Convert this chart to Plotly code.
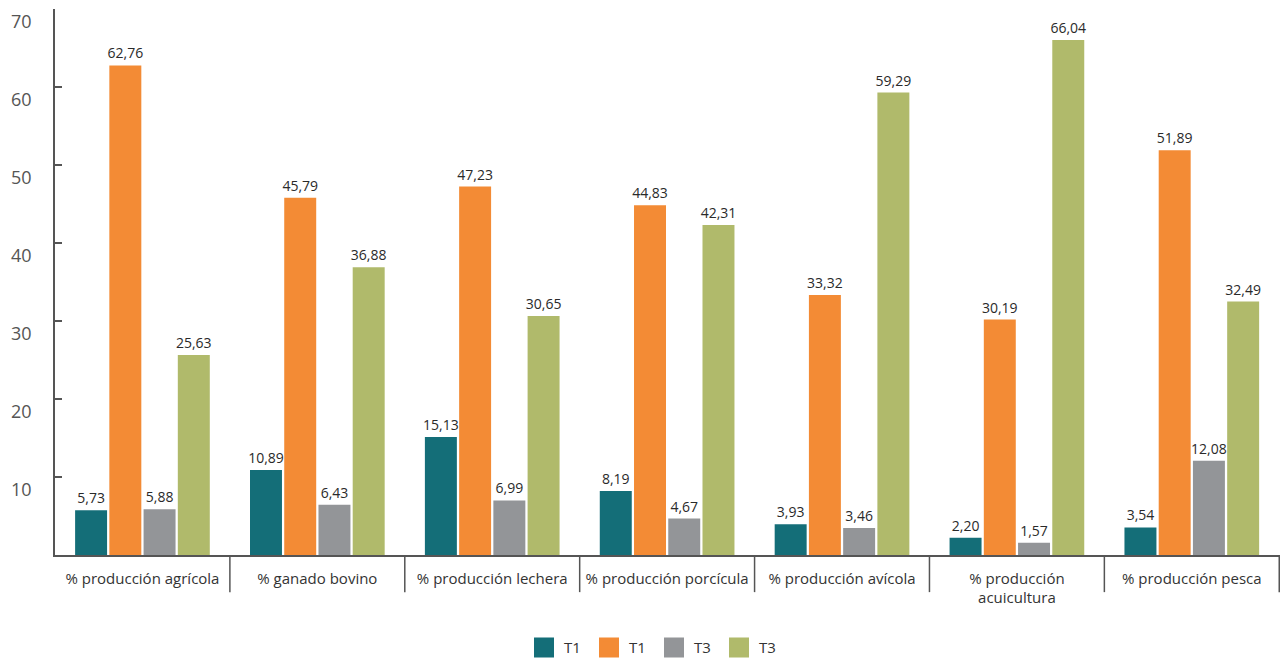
import plotly.graph_objects as go

categories = ["% producción agrícola", "% ganado bovino", "% producción lechera",
              "% producción porcícula", "% producción avícola",
              "% producción<br>acuicultura", "% producción pesca"]
series_names = ["T1", "T1", "T3", "T3"]
teal_vals = [5.73, 10.89, 15.13, 8.19, 3.93, 2.20, 3.54]
orange_vals = [62.76, 45.79, 47.23, 44.83, 33.32, 30.19, 51.89]
gray_vals = [5.88, 6.43, 6.99, 4.67, 3.46, 1.57, 12.08]
green_vals = [25.63, 36.88, 30.65, 42.31, 59.29, 66.04, 32.49]
y_ticks = [10, 20, 30, 40, 50, 60, 70]

colors = ["#146E78", "#F38B35", "#939598", "#B0BA6B"]
series = [teal_vals, orange_vals, gray_vals, green_vals]
FONT = "Open Sans"

fig = go.Figure()
for name, vals, col in zip(series_names, series, colors):
    fig.add_trace(go.Bar(
        x=categories, y=vals, name=name, marker_color=col, marker_line_width=0,
        texttemplate="%{y:.2f}", textposition="outside", cliponaxis=False,
        constraintext="none",
        textfont=dict(family=FONT, size=14, color="#2a2a2a"),
        showlegend=False,
    ))
for name, col in zip(series_names, colors):
    fig.add_trace(go.Scatter(
        x=[None], y=[None], mode="markers", name=name,
        marker=dict(symbol="square", size=16, color=col, line=dict(color=col, width=4)),
        showlegend=True,
    ))

annotations = []
for v in y_ticks:
    annotations.append(dict(
        x=0, xref="paper", y=v, yref="y", xanchor="right", yanchor="middle",
        xshift=-21, yshift=-12, showarrow=False, text=str(v),
        font=dict(family=FONT, size=18, color="#555555")))

shapes = []
for i in range(1, len(categories) + 1):
    shapes.append(dict(type="line", xref="x", yref="paper", x0=i - 0.5, x1=i - 0.5,
                       y0=0, y1=-0.068, line=dict(color="#555555", width=1.5)))

fig.update_layout(
    width=1283, height=661,
    margin=dict(l=55, r=3, t=9, b=106, autoexpand=False),
    plot_bgcolor="white", paper_bgcolor="white",
    separators=",.",
    barmode="group", bargap=0.217, bargroupgap=0.066,
    font=dict(family=FONT, color="#333333"),
    xaxis=dict(showline=True, linecolor="#555555", linewidth=1.5, ticks="",
               showgrid=False, tickfont=dict(family=FONT, size=15, color="#333333"),
               ticklabelstandoff=9, automargin=False),
    yaxis=dict(range=[0, 70], showline=True, linecolor="#555555", linewidth=1.5,
               ticks="inside", ticklen=7, tickcolor="#555555", tickwidth=1.5,
               tickvals=y_ticks, showticklabels=False, showgrid=False, zeroline=False,
               automargin=False),
    legend=dict(orientation="h", x=0.489, xanchor="center", y=-0.17, yanchor="middle",
                entrywidth=20, entrywidthmode="pixels",
                font=dict(family=FONT, size=15, color="#333333")),
    annotations=annotations, shapes=shapes,
)

fig.write_html("out.html")
